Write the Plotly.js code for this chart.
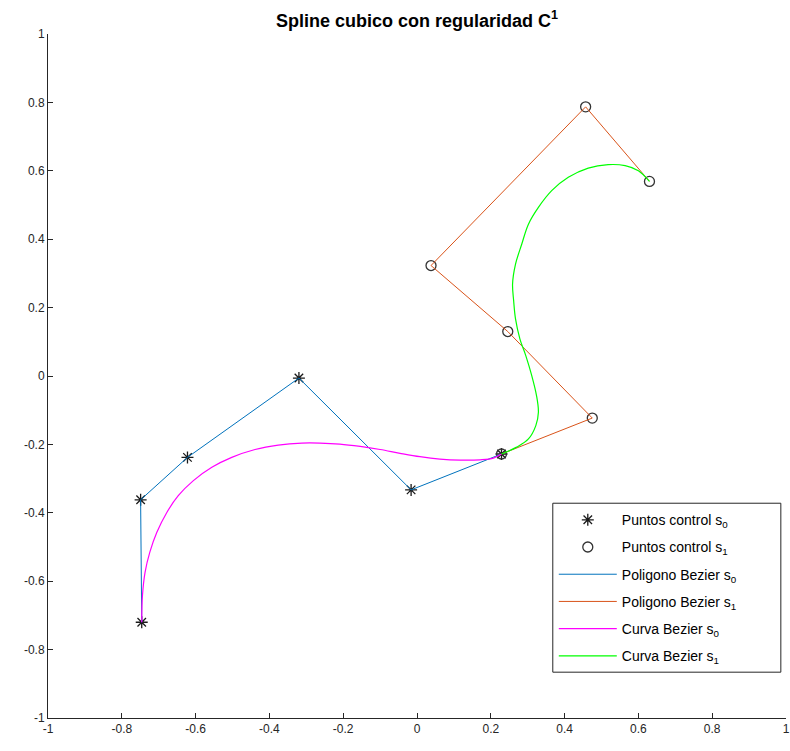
<!DOCTYPE html>
<html>
<head>
<meta charset="utf-8">
<script src="https://cdn.plot.ly/plotly-3.0.1.min.js"></script>
<style>html,body{margin:0;padding:0;background:#fff;}#chart{width:790px;height:751px;}</style>
</head>
<body>
<div id="chart"></div>
<script>
// Control points
const s0X = [-0.746, -0.749, -0.622, -0.320, -0.016, 0.229];
const s0Y = [-0.720, -0.362, -0.238, -0.006, -0.333, -0.228];
const s1X = [0.229, 0.475, 0.246, 0.038, 0.457, 0.630];
const s1Y = [-0.228, -0.123, 0.130, 0.323, 0.787, 0.569];

// Curve points
const c0X = [-0.746, -0.744, -0.737, -0.724, -0.705, -0.678, -0.647, -0.606, -0.556, -0.502, -0.439, -0.376, -0.312, -0.263, -0.209, -0.154, -0.100, -0.046, 0.008, 0.062, 0.117, 0.171, 0.207, 0.229];
const c0Y = [-0.720, -0.642, -0.574, -0.515, -0.457, -0.399, -0.350, -0.306, -0.267, -0.238, -0.215, -0.202, -0.196, -0.196, -0.199, -0.206, -0.215, -0.226, -0.236, -0.243, -0.246, -0.245, -0.240, -0.228];
const c1X = [0.229, 0.270, 0.302, 0.322, 0.329, 0.324, 0.311, 0.295, 0.279, 0.267, 0.262, 0.259, 0.267, 0.284, 0.302, 0.329, 0.365, 0.410, 0.464, 0.518, 0.564, 0.600, 0.630];
const c1Y = [-0.228, -0.208, -0.184, -0.145, -0.106, -0.058, 0.001, 0.059, 0.108, 0.167, 0.219, 0.269, 0.327, 0.386, 0.444, 0.493, 0.542, 0.581, 0.608, 0.618, 0.615, 0.600, 0.569];

const tickVals = [-1, -0.8, -0.6, -0.4, -0.2, 0, 0.2, 0.4, 0.6, 0.8, 1];
const tickText = ['-1', '-0.8', '-0.6', '-0.4', '-0.2', '0', '0.2', '0.4', '0.6', '0.8', '1'];

const names = [
  'Puntos control s<sub>0</sub>',
  'Puntos control s<sub>1</sub>',
  'Poligono Bezier s<sub>0</sub>',
  'Poligono Bezier s<sub>1</sub>',
  'Curva Bezier s<sub>0</sub>',
  'Curva Bezier s<sub>1</sub>'
];

const FONT = 'Liberation Sans, Arial, sans-serif';

const traces = [
  {x: s0X, y: s0Y, mode: 'markers', type: 'scatter', name: names[0], legendgroup: 'a',
   marker: {symbol: 'asterisk-open', size: 10, color: '#1a1a1a', line: {color: '#1a1a1a', width: 1.3}}},
  {x: s1X, y: s1Y, mode: 'markers', type: 'scatter', name: names[1], legendgroup: 'b',
   marker: {symbol: 'circle-open', size: 10, color: '#333333', line: {color: '#333333', width: 1.3}}},
  {x: s0X, y: s0Y, mode: 'lines', type: 'scatter', name: names[2], legendgroup: 'c',
   line: {color: '#0072BD', width: 1}},
  {x: s1X, y: s1Y, mode: 'lines', type: 'scatter', name: names[3], legendgroup: 'd',
   line: {color: '#D95319', width: 1}},
  {x: c0X, y: c0Y, mode: 'lines', type: 'scatter', name: names[4], legendgroup: 'e',
   line: {color: '#FF00FF', width: 1.2, shape: 'spline'}},
  {x: c1X, y: c1Y, mode: 'lines', type: 'scatter', name: names[5], legendgroup: 'f',
   line: {color: '#00FF00', width: 1.2, shape: 'spline'}}
];

const axisCommon = {
  range: [-1, 1], tickvals: tickVals, ticktext: tickText,
  ticks: 'inside', ticklen: 5, tickcolor: '#262626', tickwidth: 1,
  showline: true, linecolor: '#262626', linewidth: 1, mirror: false,
  showgrid: false, zeroline: false, fixedrange: true,
  tickfont: {family: FONT, size: 12, color: '#262626'}
};

const layout = {
  width: 790, height: 751,
  margin: {l: 48, r: 4, t: 34, b: 33},
  paper_bgcolor: '#ffffff', plot_bgcolor: '#ffffff',
  title: {text: '<b>Spline cubico con regularidad C<sup>1</sup></b>', xref: 'paper', x: 0.5, xanchor: 'center', y: 0.973, yanchor: 'middle',
          font: {family: FONT, size: 18, color: '#000000'}},
  xaxis: Object.assign({}, axisCommon),
  yaxis: Object.assign({}, axisCommon),
  showlegend: true,
  legend: {
    x: 0.684, y: 0.314, xanchor: 'left', yanchor: 'top',
    bgcolor: 'rgba(0,0,0,0)', bordercolor: 'rgba(0,0,0,0)', borderwidth: 1,
    font: {family: FONT, size: 14, color: '#000000'},
    traceorder: 'grouped', tracegroupgap: 6, itemwidth: 58
  },
  shapes: [
    {type: 'rect', xref: 'paper', yref: 'paper', x0: 0.684, x1: 0.993, y0: 0.067, y1: 0.314,
     fillcolor: '#ffffff', line: {color: '#262626', width: 1}, layer: 'above'}
  ]
};

Plotly.newPlot('chart', traces, layout, {displayModeBar: false, staticPlot: true});
</script>
</body>
</html>
